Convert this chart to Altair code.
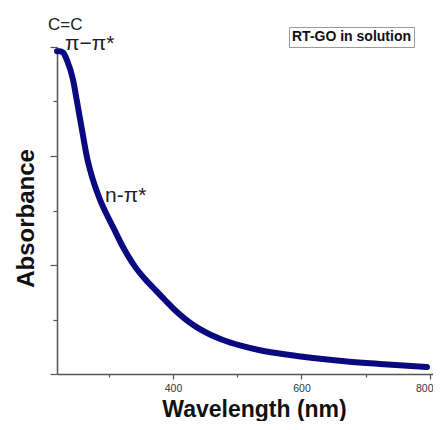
import altair as alt
import pandas as pd

# Spectrum
wavelength = [219.5, 224, 228.8, 235.0, 244.4, 250.6, 258.4, 266.1, 275.5, 286.4, 298.8, 306.6,
              322.2, 331.5, 340.9, 356.4, 368.9, 387.5, 406.2, 418.7, 431.1, 442.0, 457.6,
              477.8, 504.3, 535.4, 582.1, 617.9, 670.8, 722.2, 795.3]
absorbance = [2.96, 2.96, 2.95, 2.88, 2.70, 2.50, 2.24, 1.99, 1.78, 1.60, 1.44, 1.35,
              1.165, 1.07, 0.985, 0.872, 0.794, 0.679, 0.569, 0.506, 0.452, 0.411, 0.362,
              0.312, 0.262, 0.218, 0.174, 0.147, 0.115, 0.092, 0.064]
series = ["RT-GO in solution"] * len(wavelength)

# Annotations
ann_text = ["C=C", "π−π*", "n-π*"]
ann_wl = [205.4, 231.9, 294.2]
ann_abs = [3.156, 2.972, 1.578]
ann_size = [17, 21, 21]

x_ticks = [300, 400, 500, 600, 700, 800]
y_ticks = [0, 0.5, 1, 1.5, 2, 2.5, 3]

df = pd.DataFrame({"wl": wavelength, "A": absorbance, "series": series})
ann = pd.DataFrame({"t": ann_text, "wl": ann_wl, "A": ann_abs, "s": ann_size})

xscale = alt.Scale(domain=[219.5, 804.7], nice=False, zero=False)
yscale = alt.Scale(domain=[0, 3], nice=False)

axis_color = "#555555"

line = alt.Chart(df).mark_line(strokeWidth=6, strokeCap="round", strokeJoin="round",
                               interpolate="monotone", clip=False).encode(
    x=alt.X("wl:Q", scale=xscale, axis=alt.Axis(
        title="Wavelength (nm)", values=x_ticks,
        labelExpr="datum.value % 200 === 0 ? datum.label : ''",
        labelAlign={"condition": {"test": "datum.value === 800", "value": "right"}, "value": "center"},
        labelOffset={"condition": {"test": "datum.value === 800", "value": 3}, "value": 0},
        tickSize={"condition": {"test": "datum.value % 200 === 0", "value": 5}, "value": 3},
        grid=False, domainColor=axis_color, tickColor=axis_color, domainWidth=1.5, tickWidth=1.2,
        labelFont="Liberation Sans", labelFontSize=10.5, labelColor="#333333", labelPadding=4,
        titleFont="Liberation Sans", titleFontSize=23, titleFontWeight="bold", titleColor="#111111",
        titleBaseline="alphabetic", titleY=42, titleX=197)),
    y=alt.Y("A:Q", scale=yscale, axis=alt.Axis(
        title="Absorbance", values=y_ticks, labels=False,
        tickSize={"condition": {"test": "datum.value % 1 === 0", "value": 7}, "value": 4},
        grid=False, domainColor=axis_color, tickColor=axis_color, domainWidth=1.5, tickWidth=1.2,
        titleFont="Liberation Sans", titleFontSize=24, titleFontWeight="bold", titleColor="#111111",
        titleAngle=270, titleBaseline="alphabetic", titleX=-24, titleY=171, titleAlign="center")),
    color=alt.Color("series:N", scale=alt.Scale(range=["#0a0a80"]), legend=alt.Legend(
        title=None, orient="none", legendX=232, legendY=-20,
        strokeColor="#999999", fillColor="white", padding=3,
        labelFont="Liberation Sans", labelFontSize=14, labelFontWeight="bold", labelColor="#111111",
        labelOffset={"expr": "-14"}, symbolSize=0, symbolStrokeWidth=0, symbolOpacity=0)),
)

texts = alt.Chart(ann).mark_text(align="left", baseline="alphabetic", font="Liberation Sans",
                                 color="#222222").encode(
    x=alt.X("wl:Q", scale=xscale),
    y=alt.Y("A:Q", scale=yscale),
    text="t:N",
    size=alt.Size("s:Q", scale=None, legend=None),
)

chart = alt.layer(line, texts).properties(
    width=376, height=327,
    autosize=alt.AutoSizeParams(type="none"),
    padding={"left": 49, "top": 39, "right": 0, "bottom": 47},
).configure_view(stroke=None)

chart.save("out.html", embed_options={"renderer": "svg", "actions": False})
